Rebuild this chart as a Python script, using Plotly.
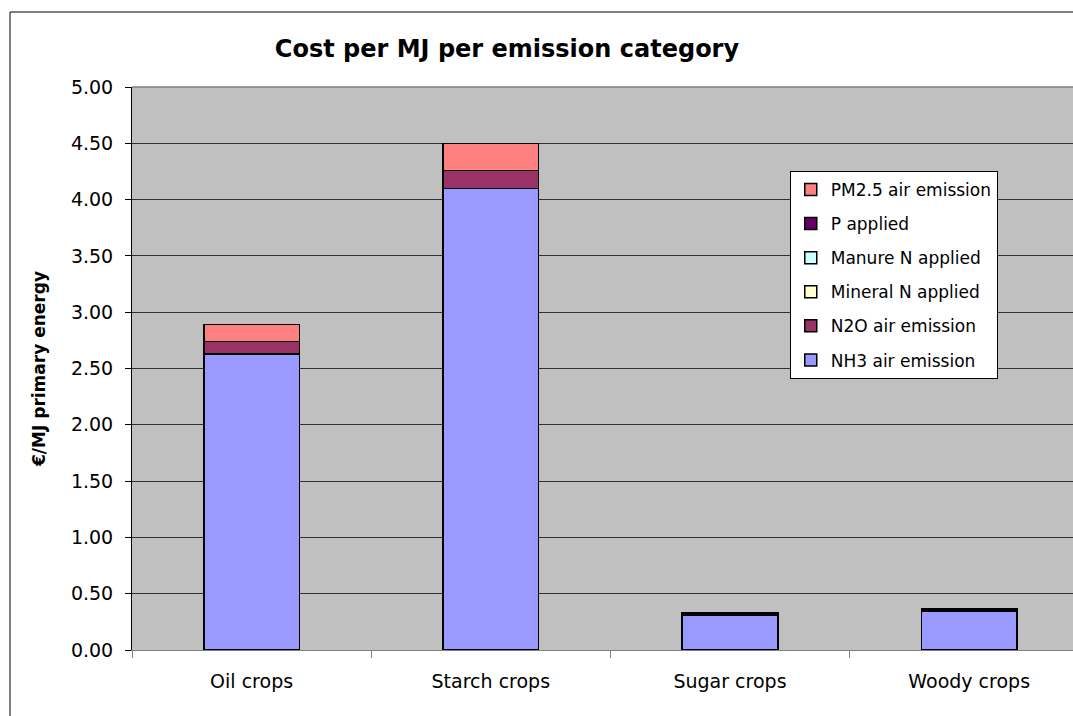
import plotly.graph_objects as go

categories = ["Oil crops", "Starch crops", "Sugar crops", "Woody crops"]

nh3_air = [2.63, 4.10, 0.31, 0.34]
n2o_air = [0.11, 0.16, 0.012, 0.012]
mineral_n = [0.0, 0.0, 0.0, 0.0]
manure_n = [0.0, 0.0, 0.0, 0.0]
p_applied = [0.0, 0.0, 0.004, 0.004]
pm25_air = [0.15, 0.24, 0.006, 0.006]

y_ticks = [0, 0.5, 1.0, 1.5, 2.0, 2.5, 3.0, 3.5, 4.0, 4.5, 5.0]

series = [
    ("NH3 air emission", nh3_air, "#9999FF"),
    ("N2O air emission", n2o_air, "#993366"),
    ("Mineral N applied", mineral_n, "#FFFFCC"),
    ("Manure N applied", manure_n, "#CCFFFF"),
    ("P applied", p_applied, "#660066"),
    ("PM2.5 air emission", pm25_air, "#FF8080"),
]

FONT = "DejaVu Sans"

fig = go.Figure()
n = len(series)
for i, (name, vals, col) in enumerate(series):
    fig.add_trace(go.Bar(
        x=categories, y=vals, name=name, legendgroup=name,
        legendrank=1000 - i,
        marker=dict(color=col, line=dict(color="black", width=1.5)),
    ))

fig.update_layout(
    width=1073, height=716,
    margin=dict(l=132, r=0, t=87, b=66, pad=0),
    paper_bgcolor="white",
    plot_bgcolor="#C0C0C0",
    barmode="stack",
    bargap=0.6,
    font=dict(family=FONT, color="black", size=19),
    title=dict(
        text="<b>Cost per MJ per emission category</b>",
        font=dict(family=FONT, size=24, color="black"),
        x=0.3985, xref="paper", xanchor="center",
        y=1 - 49 / 716, yref="container", yanchor="middle",
    ),
    legend=dict(
        x=0.699, y=0.851, xanchor="left", yanchor="top",
        bgcolor="white", bordercolor="black", borderwidth=1,
        font=dict(family=FONT, size=17, color="black"),
        traceorder="grouped", tracegroupgap=9,
        itemwidth=30,
    ),
    showlegend=True,
)

fig.update_xaxes(
    type="category",
    range=[-0.5, 3.434],
    showline=True, linecolor="#808080", linewidth=1,
    ticks="outside", tickson="boundaries", ticklen=7, tickcolor="#808080",
    showgrid=False, zeroline=False,
    ticklabelstandoff=14,
    tickfont=dict(family=FONT, size=19, color="black"),
)
fig.update_yaxes(
    range=[0, 5],
    tickvals=y_ticks,
    tickformat=".2f",
    showline=True, linecolor="black", linewidth=1,
    ticks="outside", ticklen=6, tickcolor="black",
    showgrid=True, gridcolor="#303030", gridwidth=1,
    zeroline=False,
    ticklabelstandoff=8,
    tickfont=dict(family=FONT, size=19, color="black"),
    title=dict(text="<b>€/MJ primary energy</b>",
               font=dict(family=FONT, size=17, color="black"),
               standoff=20),
)

# plot-area top border (gray) and outer chart border
fig.add_shape(type="line", xref="paper", yref="paper", x0=0, x1=1, y0=1, y1=1,
              line=dict(color="#808080", width=1.5), layer="above")
fig.add_shape(type="rect", xref="paper", yref="paper",
              x0=(10 - 132) / 941, x1=1.1, y0=-0.3, y1=(650 - 12) / 563,
              line=dict(color="black", width=1), fillcolor="rgba(0,0,0,0)", layer="below")

fig.write_html("out.html", config={"displayModeBar": False},
               post_script="document.body.style.margin='0';document.body.style.overflow='hidden';")
